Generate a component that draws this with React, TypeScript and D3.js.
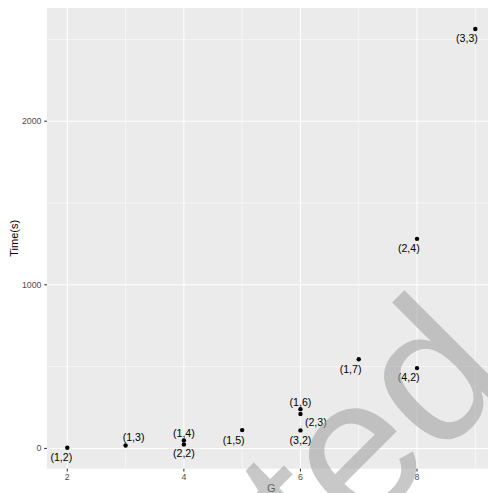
import React from "react";
import * as d3 from "d3";

// Run configurations: (p,q) label, G value and measured time in seconds
const configLabels = ["(1,2)", "(1,3)", "(1,4)", "(2,2)", "(1,5)", "(1,6)", "(2,3)", "(3,2)", "(1,7)", "(4,2)", "(2,4)", "(3,3)"];
const gValues = [2, 3, 4, 4, 5, 6, 6, 6, 7, 8, 8, 9];
const timeValues = [4, 18, 49, 24, 112, 240, 210, 110, 545, 491, 1281, 2564];

// Label placement relative to each point (px), keeps labels off their neighbours
const labelNudge: [number, number][] = [
  [-6, 9], [8, -8], [0, -7.6], [0, 9], [-8.4, 9.7], [0, -7.3],
  [15.4, 8.3], [0, 9.4], [-8.2, 9.4], [-8.3, 9], [-8.2, 9.3], [-8.3, 9.4],
];

const xMajorTicks = [2, 4, 6, 8];
const xMinorTicks = [3, 5, 7, 9];
const yMajorTicks = [0, 1000, 2000];
const yMinorTicks = [500, 1500, 2500];

const W = 488;
const H = 493;
const panel = { left: 46.9, right: 495.7, top: 8, bottom: 468.7 };
const FONT = "'Liberation Sans', Arial, Helvetica, sans-serif";

function expand(extent: [number, number], mult = 0.05): [number, number] {
  const pad = (extent[1] - extent[0]) * mult;
  return [extent[0] - pad, extent[1] + pad];
}

export default function App() {
  const x = d3
    .scaleLinear()
    .domain(expand(d3.extent(gValues) as [number, number]))
    .range([panel.left, panel.right]);
  const y = d3
    .scaleLinear()
    .domain(expand(d3.extent(timeValues) as [number, number]))
    .range([panel.bottom, panel.top]);

  const points = gValues.map((g, i) => ({ g, t: timeValues[i], label: configLabels[i], nudge: labelNudge[i] }));

  return (
    <svg
      width={W}
      height={H}
      viewBox={`0 0 ${W} ${H}`}
      style={{ position: "absolute", left: 0, top: 0, background: "#fff" }}
      fontFamily={FONT}
    >
      <defs>
        <clipPath id="panel-clip">
          <rect x={panel.left} y={panel.top} width={panel.right - panel.left} height={panel.bottom - panel.top} />
        </clipPath>
      </defs>

      {/* panel background and grid */}
      <rect x={panel.left} y={panel.top} width={panel.right - panel.left} height={panel.bottom - panel.top} fill="#EBEBEB" />
      <g clipPath="url(#panel-clip)">
        {yMinorTicks.map((v) => (
          <line key={`ym${v}`} x1={panel.left} x2={panel.right} y1={y(v)} y2={y(v)} stroke="#fff" strokeWidth={0.55} />
        ))}
        {xMinorTicks.map((v) => (
          <line key={`xm${v}`} y1={panel.top} y2={panel.bottom} x1={x(v)} x2={x(v)} stroke="#fff" strokeWidth={0.55} />
        ))}
        {yMajorTicks.map((v) => (
          <line key={`yM${v}`} x1={panel.left} x2={panel.right} y1={y(v)} y2={y(v)} stroke="#fff" strokeWidth={1.07} />
        ))}
        {xMajorTicks.map((v) => (
          <line key={`xM${v}`} y1={panel.top} y2={panel.bottom} x1={x(v)} x2={x(v)} stroke="#fff" strokeWidth={1.07} />
        ))}
      </g>

      {/* axes */}
      {xMajorTicks.map((v) => (
        <g key={`xt${v}`}>
          <line x1={x(v)} x2={x(v)} y1={panel.bottom} y2={panel.bottom + 2.7} stroke="#333" strokeWidth={1.07} />
          <text x={x(v)} y={panel.bottom + 8.6} fontSize={8.8} fill="#4D4D4D" textAnchor="middle" dominantBaseline="central">
            {v}
          </text>
        </g>
      ))}
      {yMajorTicks.map((v) => (
        <g key={`yt${v}`}>
          <line x1={panel.left - 2.7} x2={panel.left} y1={y(v)} y2={y(v)} stroke="#333" strokeWidth={1.07} />
          <text x={panel.left - 5.4} y={y(v)} fontSize={8.8} fill="#4D4D4D" textAnchor="end" dominantBaseline="central">
            {v}
          </text>
        </g>
      ))}
      <text x={(panel.left + panel.right) / 2} y={488.3} fontSize={11} fill="#000" textAnchor="middle" dominantBaseline="central">
        G
      </text>
      <text
        transform={`translate(13.8, ${(panel.top + panel.bottom) / 2}) rotate(-90)`}
        fontSize={11}
        fill="#000"
        textAnchor="middle"
        dominantBaseline="central"
      >
        Time(s)
      </text>

      {/* points and their labels */}
      <g clipPath="url(#panel-clip)">
        {points.map((p, i) => (
          <circle key={`p${i}`} cx={x(p.g)} cy={y(p.t)} r={2.2} fill="#000" />
        ))}
        {points.map((p, i) => (
          <text
            key={`l${i}`}
            x={x(p.g) + p.nudge[0]}
            y={y(p.t) + p.nudge[1]}
            fontSize={10.6}
            fill="#000"
            textAnchor="middle"
            dominantBaseline="central"
          >
            {p.label}
          </text>
        ))}
      </g>

      {/* stamp across the lower right */}
      <text
        transform="translate(321, 575.4) rotate(-45)"
        fontSize={197}
        fill="#A3A3A3"
        fillOpacity={0.6}
        fontFamily={FONT}
      >
        ted
      </text>
    </svg>
  );
}
